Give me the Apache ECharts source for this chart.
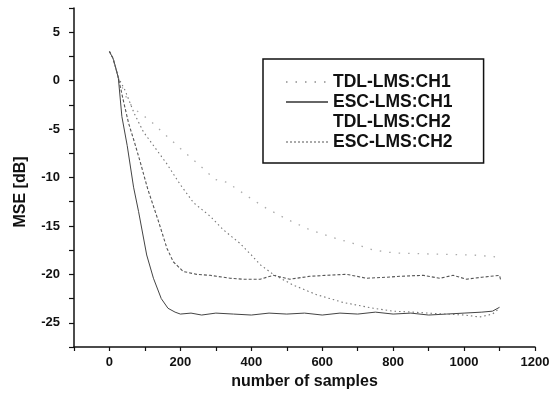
<!DOCTYPE html>
<html>
<head>
<meta charset="utf-8">
<script src="https://cdn.jsdelivr.net/npm/echarts@6/dist/echarts.min.js"></script>
<style>
  html, body { margin: 0; padding: 0; background: #fff; }
  #chart { width: 560px; height: 401px; }
</style>
</head>
<body>
<div id="chart"></div>
<script>
// TDL-LMS:CH1 (slow, sparse dots)
const tdl1X = [0, 10, 20, 25, 53, 75, 117, 143, 200, 250, 298, 331, 352, 400, 434, 500, 565, 631, 687, 744, 805, 903, 1025, 1092, 1100];
const tdl1Y = [3.0, 2.3, 1.0, 0.3, -2.2, -3.05, -4.2, -5.1, -7.0, -8.6, -10.2, -10.5, -11.0, -12.2, -13.0, -14.3, -15.4, -16.2, -16.8, -17.5, -17.8, -17.9, -18.0, -18.2, -18.3];

// ESC-LMS:CH1 (fast, solid)
const esc1X = [0, 10, 20, 25, 35, 50, 68, 82, 105, 124, 146, 165, 185, 200, 230, 260, 300, 350, 400, 450, 500, 550, 600, 650, 700, 750, 800, 850, 900, 950, 1000, 1050, 1080, 1100];
const esc1Y = [3.0, 2.3, 1.0, 0.3, -3.7, -6.7, -11.0, -13.5, -18.0, -20.4, -22.5, -23.5, -23.9, -24.1, -24.0, -24.2, -24.0, -24.1, -24.2, -24.0, -24.1, -24.0, -24.2, -24.0, -24.1, -23.9, -24.1, -24.0, -24.2, -24.1, -24.0, -23.9, -23.8, -23.4];

// TDL-LMS:CH2 (dotted, reaches -24 late)
const tdl2X = [0, 10, 20, 25, 44, 70, 96, 124, 162, 199, 237, 284, 321, 368, 400, 425, 462, 518, 584, 659, 744, 800, 856, 900, 950, 1000, 1044, 1080, 1100];
const tdl2Y = [3.0, 2.3, 1.0, 0.3, -1.0, -3.4, -5.3, -6.7, -8.6, -10.7, -12.6, -14.0, -15.4, -16.8, -18.0, -19.0, -20.0, -21.1, -22.1, -22.9, -23.5, -23.8, -23.9, -24.0, -24.1, -24.2, -24.4, -24.1, -23.5];

// ESC-LMS:CH2 (dashed, settles at -20)
const esc2X = [0, 10, 20, 25, 40, 54, 70, 86, 108, 138, 162, 180, 208, 246, 284, 302, 340, 377, 425, 462, 509, 565, 612, 669, 725, 780, 819, 884, 932, 969, 1007, 1050, 1100, 1104];
const esc2Y = [3.0, 2.3, 1.0, 0.3, -2.2, -4.4, -6.3, -8.3, -11.2, -14.5, -17.3, -18.7, -19.7, -20.0, -20.1, -20.2, -20.4, -20.5, -20.5, -20.1, -20.5, -20.2, -20.1, -20.0, -20.4, -20.3, -20.2, -20.1, -20.4, -20.1, -20.5, -20.3, -20.1, -20.7];

const seriesNames = ['TDL-LMS:CH1', 'ESC-LMS:CH1', 'TDL-LMS:CH2', 'ESC-LMS:CH2'];

const zip = (xs, ys) => xs.map((x, i) => [x, ys[i]]);

const FONT = '"Liberation Sans", Arial, sans-serif';

const chart = echarts.init(document.getElementById('chart'));

chart.setOption({
    animation: false,
    backgroundColor: '#fff',
    grid: { left: 74, right: 25, top: 8, bottom: 54 },
    legend: {
        orient: 'vertical',
        left: 263,
        top: 59,
        padding: [13, 31, 11, 22],
        itemWidth: 42,
        itemHeight: 20,
        itemGap: 0,
        borderColor: '#111',
        borderWidth: 1.5,
        itemStyle: { opacity: 0 },
        textStyle: { fontFamily: FONT, fontWeight: 'bold', fontSize: 17.5, color: '#111', lineHeight: 20 },
        data: [
            { name: seriesNames[0] },
            { name: seriesNames[1], lineStyle: { color: '#666' } },
            { name: seriesNames[2], lineStyle: { opacity: 0 } },
            { name: seriesNames[3], lineStyle: { color: '#aaa', type: [2, 2] } },
        ],
    },
    xAxis: {
        type: 'value',
        min: -100,
        max: 1200,
        interval: 100,
        name: 'number of samples',
        nameLocation: 'middle',
        nameGap: 27,
        nameTextStyle: { fontFamily: FONT, fontWeight: 'bold', fontSize: 16, color: '#111' },
        axisLine: { onZero: false, lineStyle: { color: '#111', width: 1.5 } },
        axisTick: { length: 4, lineStyle: { color: '#111', width: 1.2 } },
        axisLabel: {
            margin: 9,
            fontFamily: FONT, fontWeight: 'bold', fontSize: 13, color: '#111',
            formatter: v => (v % 200 === 0 ? String(v) : ''),
        },
        splitLine: { show: false },
    },
    yAxis: {
        type: 'value',
        min: -27.5,
        max: 7.5,
        interval: 2.5,
        axisLine: { show: true, onZero: false, lineStyle: { color: '#111', width: 1.5 } },
        axisTick: { show: true, length: 5, lineStyle: { color: '#111', width: 1.2 } },
        axisLabel: {
            margin: 14,
            fontFamily: FONT, fontWeight: 'bold', fontSize: 13, color: '#111',
            formatter: v => (v % 5 === 0 ? String(v) : ''),
        },
        splitLine: { show: false },
    },
    graphic: [{
        type: 'text',
        x: 21,
        y: 192,
        rotation: Math.PI / 2,
        style: {
            text: 'MSE [dB]',
            fontFamily: FONT, fontWeight: 'bold', fontSize: 16, fill: '#111',
            textAlign: 'center', textVerticalAlign: 'middle',
        },
    }],
    series: [
        {
            name: seriesNames[0], type: 'line', symbol: 'none',
            data: zip(tdl1X, tdl1Y),
            lineStyle: { color: '#aaa', width: 1.3, type: [1.5, 8] },
            itemStyle: { color: '#aaa' },
        },
        {
            name: seriesNames[1], type: 'line', symbol: 'none',
            data: zip(esc1X, esc1Y),
            lineStyle: { color: '#444', width: 1 },
            itemStyle: { color: '#444' },
        },
        {
            name: seriesNames[2], type: 'line', symbol: 'none',
            data: zip(tdl2X, tdl2Y),
            lineStyle: { color: '#777', width: 1.1, type: [1.5, 3] },
            itemStyle: { color: '#777' },
        },
        {
            name: seriesNames[3], type: 'line', symbol: 'none',
            data: zip(esc2X, esc2Y),
            lineStyle: { color: '#555', width: 1.1, type: [3, 2] },
            itemStyle: { color: '#555' },
        },
    ],
});

window.addEventListener('resize', () => chart.resize());
</script>
</body>
</html>
